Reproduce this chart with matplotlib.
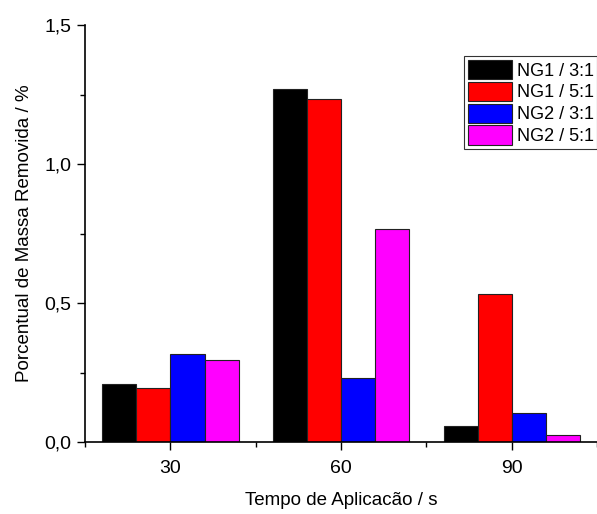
import numpy as np
import matplotlib.pyplot as plt
from matplotlib.ticker import MultipleLocator, FuncFormatter

plt.rcParams['font.family'] = ['Liberation Sans', 'DejaVu Sans']

# data
tempos = [30, 60, 90]
series = ['NG1 / 3:1', 'NG1 / 5:1', 'NG2 / 3:1', 'NG2 / 5:1']
ng1_31 = [0.21, 1.27, 0.057]
ng1_51 = [0.195, 1.235, 0.532]
ng2_31 = [0.317, 0.231, 0.104]
ng2_51 = [0.296, 0.768, 0.024]
values = [ng1_31, ng1_51, ng2_31, ng2_51]
colors = ['#000000', '#ff0000', '#0000ff', '#ff00ff']

fig = plt.figure(figsize=(5.97, 5.14), dpi=100)
ax = fig.add_axes([0.1424, 0.140, 0.858, 0.811])

width = 6
offsets = [-9, -3, 3, 9]
x = np.array(tempos)
for vals, off, c, lab in zip(values, offsets, colors, series):
    ax.bar(x + off, vals, width=width, color=c, edgecolor='#222222',
           linewidth=0.8, label=lab)

ax.set_xlim(15, 105)
ax.set_ylim(0, 1.5)
ax.set_xticks(tempos)
ax.xaxis.set_minor_locator(MultipleLocator(15))
ax.yaxis.set_major_locator(MultipleLocator(0.5))
ax.yaxis.set_minor_locator(MultipleLocator(0.25))
ax.yaxis.set_major_formatter(FuncFormatter(lambda v, p: f'{v:.1f}'.replace('.', ',')))

for s in ['top', 'right']:
    ax.spines[s].set_visible(False)
for s in ['left', 'bottom']:
    ax.spines[s].set_linewidth(1.2)

ax.tick_params(axis='both', which='major', direction='out', length=6, width=1.0,
               labelsize=14, pad=4)
ax.tick_params(axis='both', which='minor', direction='out', length=3.5, width=1.0)
ax.tick_params(axis='x', which='major', pad=7)

ax.set_xlabel('Tempo de Aplicacão / s', fontsize=13.5, labelpad=11)
ax.set_ylabel('Porcentual de Massa Removida / %', fontsize=13.5, labelpad=8)

leg = ax.legend(loc='upper right', bbox_to_anchor=(1.0, 0.925),
                fontsize=13, frameon=True, fancybox=False, shadow=False,
                handlelength=2.45, handleheight=1.25, handletextpad=0.25,
                labelspacing=0.12, borderpad=0.2, borderaxespad=0)
leg.get_frame().set_edgecolor('black')
leg.get_frame().set_linewidth(0.8)

fig.savefig('out.png', dpi=100)
